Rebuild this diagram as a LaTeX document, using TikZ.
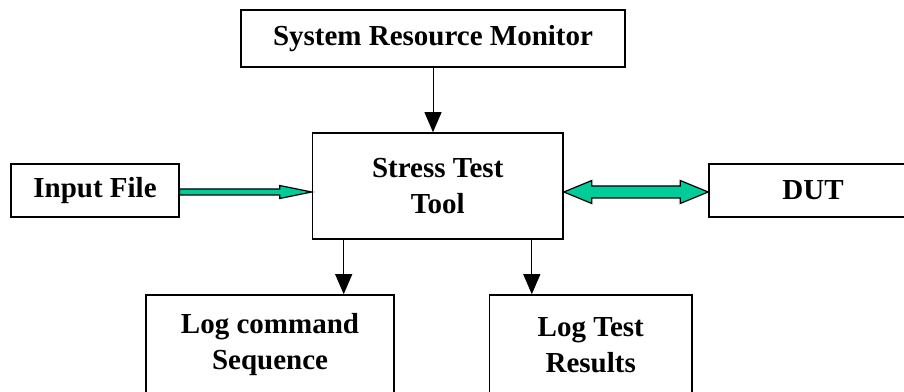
\documentclass[tikz,border=0pt]{standalone}
\usepackage{fontspec}
\setmainfont{Liberation Serif}
\usepackage{xcolor}
\usepackage{tikz}
\usetikzlibrary{positioning,calc,arrows.meta}
\definecolor{flowgreen}{RGB}{0,204,153}
\begin{document}
\begin{tikzpicture}[x=1pt,y=1pt,
  block/.style={draw=black, line width=1.6pt, inner sep=0pt, align=center,
    font=\fontsize{29}{36}\selectfont\bfseries},
  ctrl/.style={black, line width=1pt, -{Triangle[length=20pt,width=17pt]}},
  flow/.style={fill=flowgreen, draw=black, line width=1.2pt, line join=miter}]
\useasboundingbox (0,0) rectangle (904,391);
\clip (0,0) rectangle (904,391);
\node[block, minimum width=384, minimum height=57] (srm) at (433,352.5) {System Resource Monitor};
\node[block, minimum width=250.5, minimum height=106] (stt) at (437.75,205) {Stress Test\\Tool};
\node[block, minimum width=167.5, minimum height=53] (inp) at (95,200.5) {Input File};
\node[block, minimum width=208, minimum height=53] (dut) at (813,200.5) {DUT};
\node[block, minimum width=248, minimum height=100] (lcs) at (270,46) {Log command\\Sequence};
\node[block, minimum width=202.5, minimum height=100] (ltr) at (590.75,46) {Log Test\\Results};
% monitor and logs
\draw[ctrl] (srm.south) -- (srm.south |- stt.north);
\coordinate (d1) at ($(stt.south west)+(32,0)$);
\coordinate (d2) at ($(stt.south east)+(-32,0)$);
\draw[ctrl] (d1) -- (d1 |- lcs.north);
\draw[ctrl] (d2) -- (d2 |- ltr.north);
% input file arrow
\coordinate (ia) at ($(inp.east)+(0,-1.5)$);
\coordinate (ib) at (ia -| stt.west);
\filldraw[flow] ($(ia)+(0,3)$) -- ($(ib)+(-32,3)$) -- ($(ib)+(-32,6.5)$) -- (ib)
  -- ($(ib)+(-32,-6.5)$) -- ($(ib)+(-32,-3)$) -- ($(ia)+(0,-3)$) -- cycle;
% DUT double arrow
\coordinate (da) at ($(stt.east |- dut.west)+(0,-1.5)$);
\coordinate (db) at (da -| dut.west);
\filldraw[flow] (da) -- ($(da)+(28,11.5)$) -- ($(da)+(28,6)$) -- ($(db)+(-28,6)$)
  -- ($(db)+(-28,11.5)$) -- (db) -- ($(db)+(-28,-11.5)$) -- ($(db)+(-28,-6)$)
  -- ($(da)+(28,-6)$) -- ($(da)+(28,-11.5)$) -- cycle;
\end{tikzpicture}
\end{document}
